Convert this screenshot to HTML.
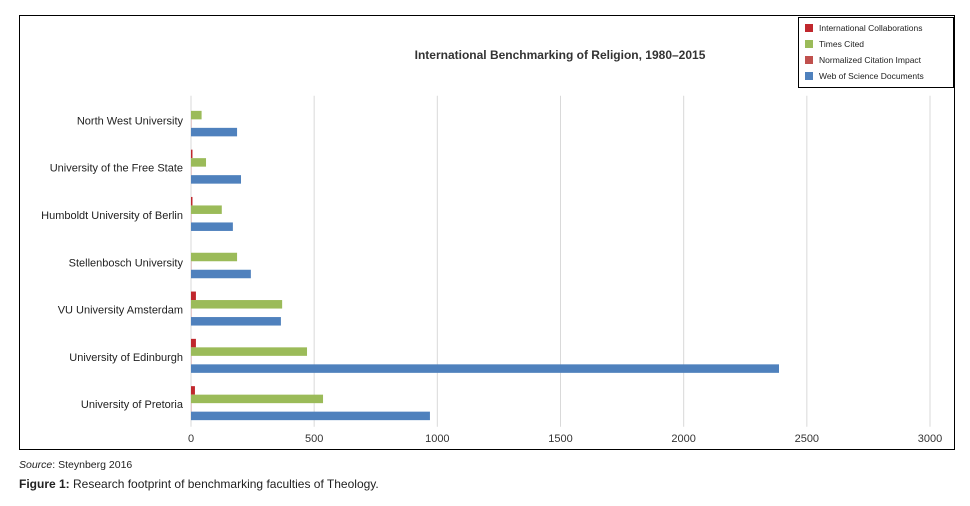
<!DOCTYPE html>
<html><head><meta charset="utf-8"><style>
body{margin:0;background:#fff;width:970px;height:501px;overflow:hidden;font-family:"Liberation Sans",sans-serif;}
</style></head><body>
<svg width="970" height="501" xmlns="http://www.w3.org/2000/svg">
<rect x="19.5" y="15.5" width="935" height="434" fill="#fff" stroke="#000" stroke-width="1"/>
<text x="560" y="59" text-anchor="middle" font-size="12" font-weight="bold" fill="#333">International Benchmarking of Religion, 1980–2015</text>
<g id="grid"></g>
<g id="bars"></g>
<g id="labels"></g>
<g id="ticks"></g>
<g>
<rect x="798.5" y="17.5" width="155" height="70" fill="#fff" stroke="#000"/>
<rect x="805" y="24" width="8" height="8" fill="#c0272d"/>
<text x="819" y="31" font-size="8.5" fill="#222">International Collaborations</text>
<rect x="805" y="40" width="8" height="8" fill="#9bbb59"/>
<text x="819" y="47" font-size="8.5" fill="#222">Times Cited</text>
<rect x="805" y="56" width="8" height="8" fill="#c0504d"/>
<text x="819" y="63" font-size="8.5" fill="#222">Normalized Citation Impact</text>
<rect x="805" y="72" width="8" height="8" fill="#4f81bd"/>
<text x="819" y="79" font-size="8.5" fill="#222">Web of Science Documents</text>
</g>
<text x="19" y="468" font-size="10.5" fill="#222"><tspan font-style="italic">Source</tspan>: Steynberg 2016</text>
<text x="19" y="488" font-size="12" fill="#222"><tspan font-weight="bold">Figure 1:</tspan> Research footprint of benchmarking faculties of Theology.</text>
</svg>
<script>
const categories=["North West University","University of the Free State","Humboldt University of Berlin","Stellenbosch University","VU University Amsterdam","University of Edinburgh","University of Pretoria"];
const intlCollab=[0,6,6,0,20,20,16];
const timesCited=[43,61,125,187,370,471,536];
const normImpact=[1,1,1,1,1,1,1];
const wosDocs=[187,203,170,243,365,2387,970];
const ticks=[0,500,1000,1500,2000,2500,3000];
const NS="http://www.w3.org/2000/svg";
const x0=191,x1=930,yTop=95.7,yBottom=426.8,maxV=3000;
const xs=v=>x0+(v/maxV)*(x1-x0);
const band=(yBottom-yTop)/categories.length;
const grid=document.getElementById('grid'),bars=document.getElementById('bars'),labels=document.getElementById('labels'),tk=document.getElementById('ticks');
function mk(t,a){const e=document.createElementNS(NS,t);for(const k in a)e.setAttribute(k,a[k]);return e;}
ticks.forEach(t=>{
  const l=mk('line',{x1:xs(t),x2:xs(t),y1:yTop,y2:yBottom,stroke:'#d9d9d9','stroke-width':1});
  
  
  grid.appendChild(l);
  const tx=mk('text',{x:xs(t),y:442,'text-anchor':'middle','font-size':11,fill:'#333'});
  tx.textContent=t;
  
  
  tk.appendChild(tx);
});
const series=[[intlCollab,'#c0272d','bar-intl-collab'],[timesCited,'#9bbb59','bar-times-cited'],[normImpact,'#c0504d','bar-norm-impact'],[wosDocs,'#4f81bd','bar-wos-docs']];
const slot=8.5,gap=(band-4*slot)/2;
categories.forEach((c,i)=>{
  const y0=yTop+i*band;
  series.forEach((s,j)=>{
    const v=s[0][i];
    const r=mk('rect',{x:x0,y:y0+gap+j*slot,width:Math.max(0,xs(v)-x0),height:slot,fill:s[1]});
    
    
    bars.appendChild(r);
  });
  const t=mk('text',{x:183,y:y0+band/2+5,'text-anchor':'end','font-size':11,fill:'#222'});
  t.textContent=c;
  
  
  labels.appendChild(t);
});
</script>
</body></html>
